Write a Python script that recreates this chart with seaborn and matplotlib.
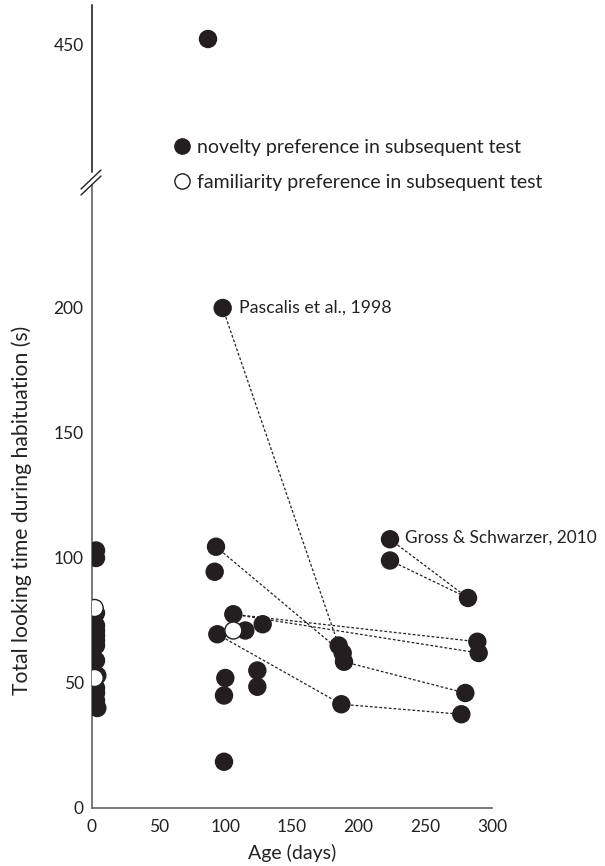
import numpy as np
import pandas as pd
import matplotlib
matplotlib.use("Agg")
import matplotlib.pyplot as plt
from matplotlib.lines import Line2D
import seaborn as sns

# Each study group: age at test (days), total looking time (s), preference in subsequent test
ages = [3, 3, 3, 3, 3, 3, 3, 3, 3, 4, 3, 3, 3, 4, 2, 2,
        87,
        93, 92, 106, 115, 128, 94, 100, 99, 124, 124, 99, 106,
        98, 223.5, 223.5, 282,
        185, 188, 189, 187, 289, 290, 280, 277]
looking = [103, 100, 78, 73, 71, 69, 67, 65, 59, 53, 48, 46, 43, 40, 80, 52,
           452,
           104.5, 94.5, 77.5, 71, 73.5, 69.5, 52, 45, 55, 48.5, 18.5, 71,
           200, 107.5, 99, 84,
           65, 62, 58.5, 41.5, 66.5, 62, 46, 37.5]
preference = (["novelty"] * 14 + ["familiarity"] * 2
              + ["novelty"]
              + ["novelty"] * 11 + ["familiarity"]
              + ["novelty"] * 4
              + ["novelty"] * 8)

# Longitudinal follow-ups of the same infants (indices into the arrays above)
tracks = [
    [29, 33],        # Pascalis et al., 1998
    [17, 34],
    [35, 39],
    [19, 37],
    [19, 38],
    [22, 36, 40],
    [30, 32],        # Gross & Schwarzer, 2010
    [31, 32],
]

y_ticks_low = [0, 50, 100, 150, 200]
y_ticks_high = [450]
x_ticks = [0, 50, 100, 150, 200, 250, 300]

df = pd.DataFrame({"age": ages, "time": looking, "pref": preference})
line_rows = []
for t, idx in enumerate(tracks):
    for order, i in enumerate(idx):
        line_rows.append({"track": t, "order": order, "age": ages[i], "time": looking[i]})
lines_df = pd.DataFrame(line_rows)

sns.set_theme(style="white")
plt.rcParams["font.family"] = ["Lato", "DejaVu Sans"]

W, H = 605, 866
fig = plt.figure(figsize=(W / 100, H / 100), dpi=100)

def fig_rect(x0, y_top, x1, y_bot):
    return [x0 / W, 1 - y_bot / H, (x1 - x0) / W, (y_bot - y_top) / H]

ax_hi = fig.add_axes(fig_rect(92, 5, 492, 172))
ax_lo = fig.add_axes(fig_rect(92, 185, 492, 808))

ink = "#231f20"
text_col = "#222222"
palette = {"novelty": ink, "familiarity": "white"}
marker_area = 150

for ax in (ax_hi, ax_lo):
    sns.lineplot(data=lines_df, x="age", y="time", units="track", estimator=None,
                 sort=False, ax=ax, color=ink, linewidth=0.9, linestyle=(0, (2.2, 1.6)),
                 legend=False)
    sns.scatterplot(data=df, x="age", y="time", hue="pref", palette=palette,
                    s=marker_area, edgecolor=ink, linewidth=1.0, ax=ax, legend=False,
                    zorder=3)
    ax.set_xlim(0, 300)
    ax.set_xlabel("")
    ax.set_ylabel("")
    ax.tick_params(length=0, labelsize=12.5, colors=text_col, pad=6)
    for side in ("top", "right"):
        ax.spines[side].set_visible(False)

ax_lo.set_ylim(0, 249.2)
ax_lo.set_yticks(y_ticks_low)
ax_lo.set_xticks(x_ticks)
ax_lo.tick_params(axis="x", pad=8)
for side in ("left", "bottom"):
    ax_lo.spines[side].set_color("#6e6e6e")
    ax_lo.spines[side].set_linewidth(1.3)

ax_hi.set_ylim(398.8, 465.6)
ax_hi.set_yticks(y_ticks_high)
ax_hi.set_xticks([])
ax_hi.spines["bottom"].set_visible(False)
ax_hi.spines["left"].set_color("#111111")
ax_hi.spines["left"].set_linewidth(1.1)

# axis break marks
for dy in (0, 6):
    fig.add_artist(Line2D([81 / W, 101 / W], [1 - (189 + dy) / H, 1 - (170 + dy) / H],
                          color=text_col, linewidth=1.0))

ax_lo.annotate("Pascalis et al., 1998", xy=(ages[29], looking[29]), xytext=(12, 0),
               textcoords="offset points", va="center", ha="left", fontsize=12.8,
               color=text_col)
ax_lo.annotate("Gross & Schwarzer, 2010", xy=(ages[30], looking[30]), xytext=(11, 1),
               textcoords="offset points", va="center", ha="left", fontsize=12.4,
               color=text_col)

fig.text(22 / W, 1 - 510 / H, "Total looking time during habituation (s)", rotation=90,
         ha="center", va="center", fontsize=15.2, color=text_col)
fig.text(292 / W, 1 - 853 / H, "Age (days)", ha="center", va="center", fontsize=14,
         color=text_col)

handles = [
    Line2D([], [], marker="o", linestyle="none", markersize=11, markerfacecolor=ink,
           markeredgecolor=ink, label="novelty preference in subsequent test"),
    Line2D([], [], marker="o", linestyle="none", markersize=11, markerfacecolor="white",
           markeredgecolor=ink, label="familiarity preference in subsequent test"),
]
fig.legend(handles=handles, loc="upper left", bbox_to_anchor=(170 / W, 1 - 139 / H),
           frameon=False, fontsize=14, handletextpad=0.17, handlelength=1.2,
           labelspacing=0.92, borderpad=0, borderaxespad=0, labelcolor=text_col)

fig.savefig("out.png", dpi=100)
